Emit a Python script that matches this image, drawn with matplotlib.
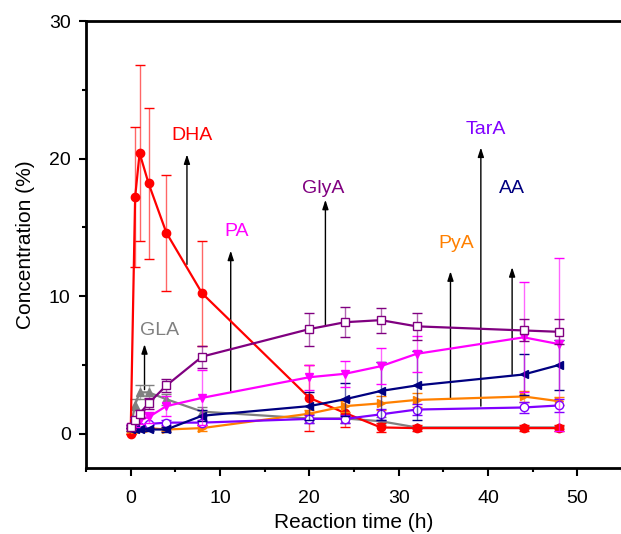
import matplotlib
matplotlib.use("Agg")
import matplotlib.pyplot as plt

plt.rcParams["font.family"] = ["Liberation Sans", "DejaVu Sans"]

# =================== data ===================
t = [0, 0.5, 1, 2, 4, 8, 20, 24, 28, 32, 44, 48]

dha = [0, 17.2, 20.4, 18.2, 14.6, 10.2, 2.6, 1.5, 0.45, 0.4, 0.4, 0.4]
dha_err = [0, 5.1, 6.4, 5.5, 4.2, 3.8, 2.4, 1.0, 0.3, 0.2, 0.2, 0.2]

pa = [0.5, 0.8, 1.0, 1.2, 2.0, 2.6, 4.1, 4.35, 4.9, 5.8, 7.0, 6.5]
pa_err = [0.2, 0.3, 0.3, 0.4, 0.7, 2.0, 0.9, 0.95, 1.3, 1.3, 4.0, 6.3]

glya = [0.5, 1.0, 1.45, 2.2, 3.5, 5.6, 7.6, 8.1, 8.25, 7.8, 7.5, 7.4]
glya_err = [0.1, 0.2, 0.3, 0.4, 0.5, 0.8, 1.2, 1.1, 0.9, 1.0, 0.8, 0.9]

gla = [0.45, 2.1, 3.0, 3.0, 2.5, 1.6, 1.1, 1.1, 0.9, 0.45, 0.45, 0.45]
gla_err = [0.1, 0.4, 0.5, 0.5, 0.4, 0.3, 0.3, 0.3, 0.3, 0.1, 0.1, 0.1]

pya = [0.3, 0.3, 0.3, 0.4, 0.3, 0.4, 1.45, 2.0, 2.2, 2.45, 2.7, 2.35]
pya_err = [0.1, 0.1, 0.1, 0.1, 0.1, 0.2, 0.3, 0.4, 0.5, 0.5, 0.4, 0.3]

aa = [0.3, 0.3, 0.3, 0.3, 0.3, 1.3, 2.0, 2.5, 3.1, 3.5, 4.3, 5.0]
aa_err = [0.1, 0.1, 0.1, 0.1, 0.2, 0.4, 1.0, 1.2, 2.1, 2.5, 1.5, 1.8]

tara = [0.5, 0.5, 0.5, 0.7, 0.8, 0.8, 1.07, 1.07, 1.4, 1.75, 1.9, 2.05]
tara_err = [0.1, 0.1, 0.1, 0.1, 0.2, 0.2, 0.3, 0.3, 0.4, 0.4, 0.4, 0.5]

# label text position, arrow x, arrow start y (on curve), arrow tip y
labels = ["DHA", "PA", "GlyA", "GLA", "PyA", "TarA", "AA"]
label_xy = [(6.9, 21.7), (11.9, 14.7), (21.6, 17.8), (3.2, 7.5),
            (36.4, 13.8), (39.7, 22.1), (42.7, 17.8)]
arrow_x = [6.3, 11.2, 21.8, 1.55, 35.8, 39.2, 42.7]
arrow_from = [12.3, 3.1, 7.9, 3.2, 2.5, 2.0, 4.3]
arrow_to = [20.3, 13.3, 17.0, 6.5, 11.8, 20.8, 12.1]
label_colors = ["#FF0000", "#FF00FF", "#800080", "#808080",
                "#FF8000", "#8000FF", "#000080"]

fig = plt.figure(figsize=(6.21, 5.34), dpi=100)
ax = fig.add_axes([86 / 621, (534 - 468) / 534, 536 / 621, (468 - 21) / 534])

series = [
    (gla, gla_err, "#808080", "^", "#808080"),
    (dha, dha_err, "#FF0000", "o", "#FF0000"),
    (pya, pya_err, "#FF8000", ">", "#FF8000"),
    (tara, tara_err, "#8000FF", "o", "white"),
    (aa, aa_err, "#000080", "<", "#000080"),
    (pa, pa_err, "#FF00FF", "v", "#FF00FF"),
    (glya, glya_err, "#800080", "s", "white"),
]
for i, (y, e, c, m, fc) in enumerate(series):
    ax.errorbar(t, y, yerr=e, color=c, marker=m, markersize=6,
                markerfacecolor=fc, markeredgecolor=c, markeredgewidth=1,
                lw=1.6, elinewidth=1, capsize=3.5, capthick=1,
                ecolor=c, zorder=3 + i)
# lighter error bars like the original
for coll in ax.collections:
    coll.set_alpha(0.6)

for lab, (lx, ly), axx, y0, y1, c in zip(labels, label_xy, arrow_x,
                                         arrow_from, arrow_to, label_colors):
    ax.annotate("", xy=(axx, y1), xytext=(axx, y0),
                arrowprops=dict(arrowstyle="-|>,head_width=0.18,head_length=0.55",
                                color="black", lw=1, shrinkA=0, shrinkB=0),
                zorder=2)
    ax.text(lx, ly, lab, color=c, fontsize=14, ha="center", va="center")

ax.set_xlim(-5, 55)
ax.set_ylim(-2.5, 30)
ax.set_xticks([0, 10, 20, 30, 40, 50])
ax.set_xticks([-5, 5, 15, 25, 35, 45, 55], minor=True)
ax.set_yticks([0, 10, 20, 30])
ax.set_yticks([5, 15, 25], minor=True)
ax.tick_params(which="major", direction="out", length=5, width=1.5,
               labelsize=14, pad=6)
ax.tick_params(axis="x", which="major", length=6, pad=10)
ax.tick_params(which="minor", direction="out", length=3, width=1.5)
for s in ax.spines.values():
    s.set_linewidth(2)
ax.set_xlabel("Reaction time (h)", fontsize=15, labelpad=4)
ax.set_ylabel("Concentration (%)", fontsize=15, labelpad=10)

fig.savefig("out.png", dpi=100)
